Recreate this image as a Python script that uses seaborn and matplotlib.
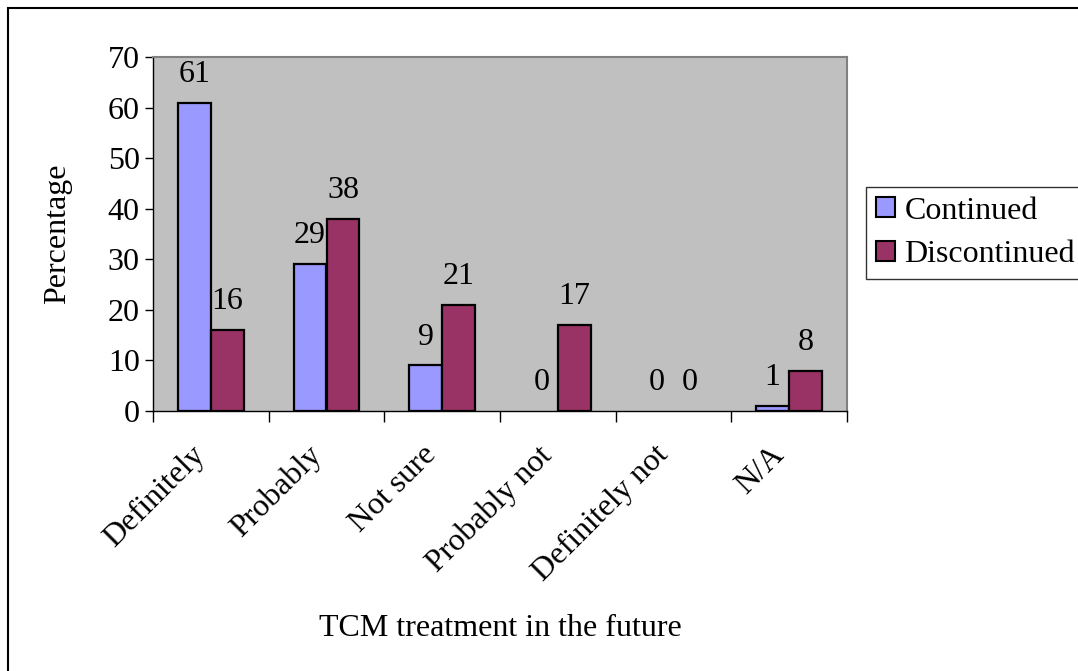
import pandas as pd
import matplotlib.pyplot as plt
import matplotlib.patches as mpatches
import matplotlib.transforms as mtransforms
import seaborn as sns
from matplotlib.ticker import FixedLocator

#%% data
categories = ["Definitely", "Probably", "Not sure", "Probably not", "Definitely not", "N/A"]
continued = [61, 29, 9, 0, 0, 1]
discontinued = [16, 38, 21, 17, 0, 8]
groups = ["Continued", "Discontinued"]
palette = ["#9999FF", "#993366"]

df = pd.DataFrame({
    "answer": categories * 2,
    "group": [groups[0]] * len(categories) + [groups[1]] * len(categories),
    "pct": continued + discontinued,
})

#%% plot
sns.set_style("ticks")
plt.rcParams["font.family"] = ["Liberation Serif", "DejaVu Serif"]
plt.rcParams["text.color"] = "black"
plt.rcParams["axes.labelcolor"] = "black"
plt.rcParams["xtick.color"] = "black"
plt.rcParams["ytick.color"] = "black"
fs = 23

fig = plt.figure(figsize=(10.78, 6.71), dpi=100)
ax = fig.add_axes([153/1078, 1 - 411/671, (847-153)/1078, (411-57)/671])
sns.barplot(data=df, x="answer", y="pct", hue="group", palette=palette,
            order=categories, hue_order=groups, width=0.57,
            edgecolor="black", linewidth=1.6, saturation=1, ax=ax, legend=False)
ax.set_facecolor("#C0C0C0")

# zero-height bars are not drawn in the original
for p in ax.patches:
    if p.get_height() == 0:
        p.set_linewidth(0)

for cont in ax.containers:
    ax.bar_label(cont, fmt="%d", padding=10, fontsize=fs, color="black")

ax.set_ylim(0, 70)
ax.set_xlim(-0.5, len(categories) - 0.5)
ax.set_yticks(range(0, 71, 10))
ax.tick_params(axis="y", labelsize=fs, length=6, width=1, direction="out")
ax.tick_params(axis="x", which="major", length=0, labelsize=fs, pad=14)
ax.xaxis.set_minor_locator(FixedLocator([i - 0.5 for i in range(len(categories) + 1)]))
ax.tick_params(axis="x", which="minor", length=8, width=1, direction="out")
shift = mtransforms.ScaledTranslation(-0.2, -0.1, fig.dpi_scale_trans)
for lab in ax.get_xticklabels():
    lab.set_rotation(45)
    lab.set_ha("right")
    lab.set_rotation_mode("anchor")
    lab.set_transform(lab.get_transform() + shift)

for s in ["top", "right"]:
    ax.spines[s].set_color("#808080")
    ax.spines[s].set_linewidth(1.5)
for s in ["left", "bottom"]:
    ax.spines[s].set_color("black")
    ax.spines[s].set_linewidth(1)

ax.set_xlabel("")
ax.set_ylabel("Percentage", fontsize=fs, labelpad=26)
fig.text(500/1078, 1 - 628/671, "TCM treatment in the future", fontsize=fs,
         ha="center", va="center")

handles = [mpatches.Patch(facecolor=c, edgecolor="black", linewidth=1.5) for c in palette]
leg = fig.legend(handles, groups, loc="upper left", bbox_to_anchor=(866/1078, 1 - 187/671),
                 fontsize=fs, frameon=True, fancybox=False, handlelength=0.6,
                 handleheight=0.6, handletextpad=0.3, borderpad=0.3, labelspacing=0.45,
                 borderaxespad=0)
leg.get_frame().set_edgecolor("black")
leg.get_frame().set_linewidth(1)

# outer chart border (only top and left edges fall inside the image)
fig.patches.append(mpatches.Rectangle((8/1078, -0.05), 1.1, 1.05 - 8/671,
                                      transform=fig.transFigure, fill=False,
                                      edgecolor="black", linewidth=1.5, zorder=-1))

fig.savefig("out.png", dpi=100)
